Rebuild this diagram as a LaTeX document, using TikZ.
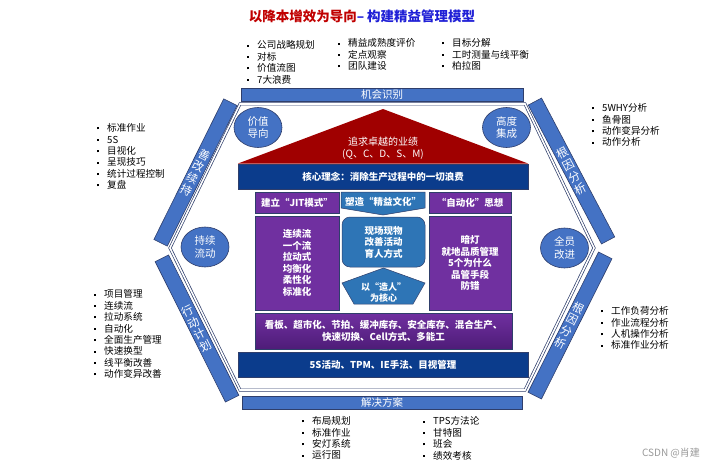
\documentclass[tikz,border=0pt]{standalone}
\usepackage{fontspec}
\setmainfont{Noto Sans CJK SC}
\usetikzlibrary{shapes.geometric}
\definecolor{barblue}{HTML}{4472C4}
\definecolor{barline}{HTML}{2F3E6B}
\definecolor{navy}{HTML}{0B3C8C}
\definecolor{tri}{HTML}{A00000}
\definecolor{purp}{HTML}{7030A0}
\definecolor{purpdark}{HTML}{4E1C78}
\definecolor{midblue}{HTML}{2E75B6}
\definecolor{titred}{HTML}{C00000}
\definecolor{titblue}{HTML}{1F1FD6}
\newcommand{\bl}{\makebox[10pt][l]{\rule[2.3pt]{2pt}{2pt}}}
\begin{document}
\begin{tikzpicture}[x=1pt,y=-1pt,
  sidebar/.style={draw=barline, line width=0.6, fill=barblue, text=white, minimum width=15, minimum height=157, inner sep=0, align=center, font=\fontsize{11.5}{13.3}\selectfont},
  hbar/.style={draw=barline, line width=0.6, fill=barblue, text=white, inner sep=0, font=\fontsize{10.5}{12}\selectfont},
  circ/.style={ellipse, draw=barline, line width=0.6, fill=barblue, text=white, minimum width=48, minimum height=40, inner sep=0, align=center, font=\fontsize{10.5}{12.5}\selectfont},
  bullets/.style={anchor=north west, inner sep=0, align=left, font=\fontsize{9.6}{11.4}\selectfont},
  navyband/.style={draw=barline, line width=0.5, fill=navy, text=white, inner sep=0, font=\bfseries\fontsize{9.5}{11}\selectfont},
  purpbox/.style={draw=barline, line width=0.5, fill=purp, text=white, inner sep=0, align=center, font=\bfseries\fontsize{9.5}{11.5}\selectfont},
  bluebox/.style={draw=barline, line width=0.5, fill=midblue, text=white, inner sep=0, align=center, font=\bfseries\fontsize{9.5}{11.5}\selectfont},
  hexline/.style={draw=barline, line width=0.7, double=white, double distance=1.6pt},
  whitetxt/.style={text=white, inner sep=0, align=center, font=\fontsize{10}{12}\selectfont}
]
\useasboundingbox (0,0) rectangle (720,468);

% title
\node[inner sep=0, font=\bfseries\fontsize{13.5}{15}\selectfont] (title) at (362,16)
  {\textcolor{titred}{以降本增效为导向}\textcolor{titblue}{– 构建精益管理模型}};

% hexagon double outline
\draw[hexline] (240,104) -- (525,104) -- (594,248) -- (525,390) -- (240,390) -- (170,248) -- cycle;

% top and bottom bars
\node[hbar, minimum width=282, minimum height=13] (topbar) at (382,95) {机会识别};
\node[hbar, minimum width=280, minimum height=13] (botbar) at (382,402.5) {解决方案};

% side bars (vertical text, bars tilted)
\node[sidebar, rotate=-26.4] (ul) at (195.5,172.5) {善\\改\\续\\持};
\node[sidebar, rotate=26.6] (ll) at (197,328.5) {行\\动\\计\\划};
\node[sidebar, rotate=27.8] (ur) at (571.5,171) {根\\因\\分\\析};
\node[sidebar, rotate=-26.7] (lr) at (570,325.5) {根\\因\\分\\析};

% red triangle
\fill[tri] (383,109) -- (528,163.5) -- (238,163.5) -- cycle;
\node[whitetxt] (tritxt) at (383,148.5) {追求卓越的业绩\\(Q、C、D、S、M)};

% circles
\node[circ] (c1) at (258,127.5) {价值\\导向};
\node[circ] (c2) at (506.5,127.5) {高度\\集成};
\node[circ] (c3) at (205,247) {持续\\流动};
\node[circ] (c4) at (564.5,248) {全员\\改进};

% core band
\node[navyband, minimum width=290, minimum height=25] (core) at (383,176.5) {核心理念：消除生产过程中的一切浪费};

% header row
\node[purpbox, minimum width=84, minimum height=21] (h1) at (297,202.5) {建立“JIT模式”};
\node[purpbox, minimum width=82, minimum height=21] (h3) at (470,202.5) {“自动化”思想};
\filldraw[fill=midblue, draw=barline, line width=0.5] (341,192) -- (425,192) -- (425,208) -- (383,215) -- (341,208) -- cycle;
\node[text=white, inner sep=0, font=\bfseries\fontsize{9.5}{11}\selectfont] (h2) at (383,201.5) {塑造“精益文化”};

% big boxes
\node[purpbox, minimum width=84, minimum height=94] (jit) at (297,263) {连续流\\一个流\\拉动式\\均衡化\\柔性化\\标准化};
\node[purpbox, minimum width=82, minimum height=94] (auto) at (470,263) {暗灯\\就地品质管理\\5个为什么\\品管手段\\防错};
\node[bluebox, rounded corners=8, minimum width=83, minimum height=50] (cul) at (383.5,242) {现场现物\\改善活动\\育人方式};
\filldraw[fill=midblue, draw=barline, line width=0.5] (383.5,268) -- (425,283) -- (413,304) -- (354,304) -- (342,283) -- cycle;
\node[text=white, inner sep=0, align=center, font=\bfseries\fontsize{9}{11}\selectfont] (ppl) at (383.5,292.5) {以“造人”\\为核心};

% purple band
\node[draw=barline, line width=0.5, top color=purp, bottom color=purpdark, text=white, inner sep=0, align=center, minimum width=257, minimum height=36, font=\bfseries\fontsize{9.5}{12}\selectfont] (tools) at (383.5,331)
  {看板、超市化、节拍、缓冲库存、安全库存、混合生产、\\快速切换、Cell方式、多能工};

% base band
\node[navyband, minimum width=290, minimum height=25] (base) at (383,364.5) {5S活动、TPM、IE手法、目视管理};

% bullet lists
\node[bullets] (b1) at (247,40.5) {\bl 公司战略规划\\\bl 对标\\\bl 价值流图\\\bl 7大浪费};
\node[bullets] (b2) at (338,38.5) {\bl 精益成熟度评价\\\bl 定点观察\\\bl 团队建设};
\node[bullets] (b3) at (442,38.5) {\bl 目标分解\\\bl 工时测量与线平衡\\\bl 柏拉图};
\node[bullets] (b4) at (97,123.5) {\bl 标准作业\\\bl 5S\\\bl 目视化\\\bl 呈现技巧\\\bl 统计过程控制\\\bl 复盘};
\node[bullets] (b5) at (94,289.5) {\bl 项目管理\\\bl 连续流\\\bl 拉动系统\\\bl 自动化\\\bl 全面生产管理\\\bl 快速换型\\\bl 线平衡改善\\\bl 动作变异改善};
\node[bullets] (b6) at (592,103.5) {\bl 5WHY分析\\\bl 鱼骨图\\\bl 动作变异分析\\\bl 动作分析};
\node[bullets] (b7) at (601,306.5) {\bl 工作负荷分析\\\bl 作业流程分析\\\bl 人机操作分析\\\bl 标准作业分析};
\node[bullets] (b8) at (302,416.5) {\bl 布局规划\\\bl 标准作业\\\bl 安灯系统\\\bl 运行图};
\node[bullets] (b9) at (423,416.5) {\bl TPS方法论\\\bl 甘特图\\\bl 班会\\\bl 绩效考核};

% watermark
\node[inner sep=0, text=black!40, font=\fontsize{10}{12}\selectfont] (wm) at (671,453) {CSDN @肖建};
\end{tikzpicture}
\end{document}
